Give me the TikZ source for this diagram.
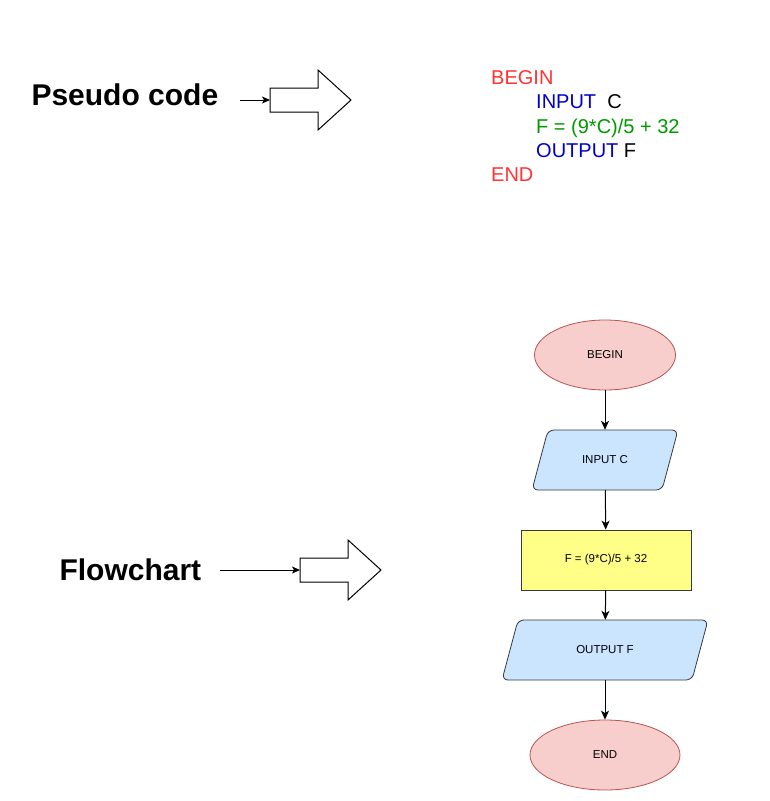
\documentclass[tikz,border=0pt]{standalone}
\usepackage{fontspec}
\setmainfont{Liberation Sans}
\usepackage{xcolor}
\usepackage{tikz}
\usetikzlibrary{
	arrows.meta,
        shapes.geometric,
}

\definecolor{termfill}{HTML}{F8CECC}
\definecolor{termdraw}{HTML}{B85450}
\definecolor{iofill}{HTML}{CCE5FF}
\definecolor{procfill}{HTML}{FFFF88}
\definecolor{boxdraw}{HTML}{36393D}
\definecolor{pcred}{HTML}{FF3333}
\definecolor{pcblue}{HTML}{0000CC}
\definecolor{pcgreen}{HTML}{009900}

% block arrow with its tail middle at (#1,#2)
\newcommand{\blockarrow}[2]{%
  \draw[line width=1pt, line join=miter, fill=white]
    (#1,#2+12) -- ++(48,0) -- ++(0,18) -- (#1+81,#2) -- (#1+48,#2-30)
    -- ++(0,18) -- (#1,#2-12) -- cycle;}

% parallelogram box: name, x, y, width, text
\newcommand{\iobox}[5]{%
  \draw[rounded corners=6pt, draw=boxdraw, fill=iofill, line width=0.8pt]
    (#2-#4/2+16,#3+30) -- (#2+#4/2,#3+30) -- (#2+#4/2-16,#3-30)
    -- (#2-#4/2,#3-30) -- cycle;
  \node[iotext, minimum width=#4, minimum height=60pt] (#1) at (#2,#3) {#5};}

\begin{document}
\begin{tikzpicture}[x=1pt, y=1pt,
    heading/.style={anchor=base west, font=\fontsize{30}{36}\selectfont\bfseries},
    pcline/.style={anchor=base west, inner sep=0pt, font=\fontsize{20}{24}\selectfont},
    terminal/.style={ellipse, draw=termdraw, fill=termfill, line width=0.8pt,
        font=\fontsize{11.5}{14}\selectfont},
    iotext/.style={rectangle, inner sep=0pt, font=\fontsize{11.5}{14}\selectfont},
    procbox/.style={rectangle, draw=boxdraw, fill=procfill, line width=0.8pt,
        minimum width=170pt, minimum height=60pt, font=\fontsize{11.5}{14}\selectfont},
    flow/.style={line width=1pt, -{Stealth[length=9pt,width=8pt,inset=2.5pt]}},
    pointer/.style={line width=1pt, -{Stealth[length=8pt,width=7pt,inset=2pt]}},
  ]
            \useasboundingbox (0,0) rectangle (770,-801);

            % pseudo code part
            \node[heading] (pchead) at (28,-105) {Pseudo code};
            \coordinate (pcstart) at (240,-100);
            \coordinate (pctail) at (270,-100);
            \blockarrow{270}{-100}
            \draw[pointer] (pcstart) -- (pctail);

            \node[pcline, text=pcred]   (pcbegin)  at (491,-84)  {BEGIN};
            \node[pcline, text=pcblue]  (pcinput)  at (536,-108) {INPUT\ \ \textcolor{black}{C}};
            \node[pcline, text=pcgreen] (pccalc)   at (536,-133) {F = (9*C)/5 + 32};
            \node[pcline, text=pcblue]  (pcoutput) at (536,-157) {OUTPUT \textcolor{black}{F}};
            \node[pcline, text=pcred]   (pcend)    at (491,-181) {END};

            % flowchart part
            \node[heading] (fchead) at (56,-580) {Flowchart};
            \coordinate (fcstart) at (220,-570);
            \coordinate (fctail) at (300,-570);
            \blockarrow{300}{-570}
            \draw[pointer] (fcstart) -- (fctail);

            \node[terminal, minimum width=141pt, minimum height=70pt] (begin) at (605,-355) {BEGIN};
            \iobox{input}{605}{-460}{146}{INPUT C}
            \node[procbox] (calc) at (606,-560) {F = (9*C)/5 + 32};
            \iobox{output}{605}{-650}{206}{OUTPUT F}
            \node[terminal, minimum width=150pt, minimum height=70pt] (end) at (605,-755) {END};

            \draw[flow] (begin) -- (input);
            \draw[flow] (input) -- (calc);
            \draw[flow] (calc) -- (output);
            \draw[flow] (output) -- (end);
	\end{tikzpicture}
\end{document}
